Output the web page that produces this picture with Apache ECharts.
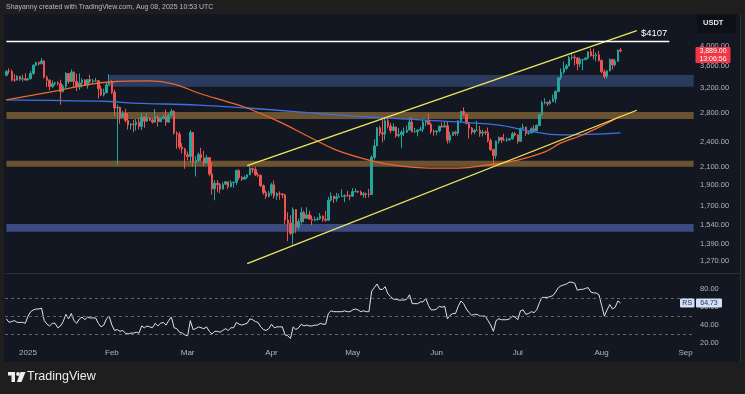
<!DOCTYPE html>
<html><head><meta charset="utf-8">
<script src="https://cdn.jsdelivr.net/npm/echarts@6/dist/echarts.min.js"></script>
<style>
html,body{margin:0;padding:0;background:#1e1e1e;width:745px;height:394px;overflow:hidden}
#panel{position:absolute;left:4px;top:14px;width:737px;height:348px;background:#131722;}
#chart{position:absolute;left:0;top:0;width:745px;height:394px;}
</style></head><body>
<div id="panel"></div><div id="chart"></div>
<script>
// ---------- DATA ----------
const firstDay = '2024-12-24';
const dayCount = 255;
const dates = [];
(function(){const d0=Date.parse(firstDay+'T00:00:00Z');for(let k=0;k<dayCount;k++){dates.push(new Date(d0+k*864e5).toISOString().slice(0,10));}})();
const monthLabels = {'2025-01-01':'2025','2025-02-01':'Feb','2025-03-01':'Mar','2025-04-01':'Apr','2025-05-01':'May','2025-06-01':'Jun','2025-07-01':'Jul','2025-08-01':'Aug','2025-09-01':'Sep'};

const opens = [
3418,3490,3487,3333,3331,3398,3348,3356,
3332,3353,3451,3605,3656,3634,3686,3381,3327,3220,3267,3282,3267,3134,3222,3450,3306,3474,3307,3213,3280,3330,3241,3339,3306,3317,3318,3180,3078,3113,3247,
3300,3120,2870,2880,2731,2787,2687,2622,2632,2627,2660,2602,2737,2676,2725,2692,2662,2743,2669,2716,2739,2662,2763,2820,2512,2495,2332,2306,
2237,2217,2518,2149,2170,2240,2200,2140,2203,2018,1866,1921,1908,1863,1911,1937,1887,1928,1933,2056,1981,1964,1983,2010,2080,2067,2010,2003,1897,1828,1792,
1823,1906,1796,1818,1815,1806,1580,1553,1472,1670,1521,1567,1644,1594,1624,1588,1577,1584,1589,1614,1587,1578,1756,1796,1770,1786,1789,1792,1799,1798,
1793,1838,1840,1834,1807,1817,1813,1810,2206,2345,2582,2514,2498,2680,2608,2546,2594,2476,2491,2523,2525,2551,2663,2527,2530,2551,2565,2661,2682,2632,2532,
2528,2539,2606,2593,2610,2418,2482,2523,2509,2680,2817,2773,2643,2578,2524,2547,2548,2510,2525,2520,2412,2300,2227,2406,2452,2421,2418,2423,2436,2502,
2486,2404,2574,2592,2508,2515,2570,2542,2615,2770,2952,2957,2941,2971,3012,3137,3371,3475,3546,3591,3755,3762,3747,3630,3711,3715,3743,3873,3794,3792,3812,
3697,3480,3392,3497,3716,3611,3683,3909];
const highs = [
3512,3548,3525,3437,3418,3402,3428,3452,
3366,3497,3622,3672,3677,3745,3700,3412,3349,3322,3300,3311,3337,3256,3474,3460,3525,3492,3448,3452,3362,3350,3345,3428,3350,3370,3326,3232,3180,3280,3438,
3330,3165,2925,2890,2826,2856,2795,2651,2695,2707,2722,2795,2740,2795,2729,2718,2852,2760,2724,2770,2845,2790,2857,2832,2535,2530,2380,2320,
2275,2550,2525,2220,2265,2320,2285,2235,2205,2150,1955,1955,1925,1933,1944,1940,1952,1933,2066,2070,1996,2004,2015,2104,2089,2095,2036,2016,1910,1848,1845,
1926,1950,1833,1840,1824,1815,1646,1620,1690,1673,1592,1690,1660,1690,1660,1617,1610,1605,1640,1618,1660,1788,1830,1797,1826,1818,1860,1812,1845,1810,
1873,1870,1848,1850,1835,1828,1865,2231,2430,2593,2609,2740,2738,2724,2650,2643,2598,2580,2548,2585,2616,2733,2738,2580,2560,2600,2713,2698,2788,2655,2559,
2545,2608,2659,2677,2665,2528,2530,2541,2692,2827,2880,2790,2647,2593,2568,2680,2610,2556,2545,2585,2440,2310,2412,2467,2462,2500,2455,2445,2524,2526,
2494,2586,2636,2598,2535,2590,2620,2630,2790,2985,3022,2969,3000,3083,3152,3384,3547,3676,3630,3788,3860,3813,3761,3760,3732,3766,3880,3941,3938,3860,3885,
3720,3527,3510,3740,3730,3726,3918,3955];
const lows = [
3395,3443,3305,3300,3325,3315,3300,3320,
3322,3345,3426,3590,3600,3620,3358,3208,3155,3192,3232,3233,2920,3118,3183,3265,3302,3210,3140,3160,3200,3228,3181,3280,3280,3303,3020,3060,3055,3105,3230,
3090,2745,2120,2640,2725,2656,2559,2557,2521,2544,2560,2552,2582,2665,2678,2640,2652,2600,2660,2698,2610,2658,2746,2490,2310,2300,2254,2076,
2172,2145,2100,1993,2150,2164,2103,2135,1995,1808,1755,1832,1822,1855,1905,1863,1881,1877,1905,1958,1945,1960,1968,2007,2030,1995,1985,1884,1808,1768,1782,
1799,1770,1759,1760,1775,1546,1411,1457,1385,1473,1502,1543,1560,1590,1580,1536,1570,1575,1582,1565,1565,1574,1743,1730,1741,1780,1786,1737,1790,1755,
1791,1830,1824,1801,1780,1775,1782,1805,2181,2341,2473,2390,2418,2573,2508,2536,2448,2454,2320,2470,2512,2546,2522,2515,2468,2542,2523,2606,2622,2500,2476,
2482,2520,2585,2591,2375,2381,2470,2479,2477,2655,2750,2630,2440,2491,2495,2541,2463,2465,2486,2390,2283,2111,2189,2374,2380,2405,2395,2410,2424,2470,
2373,2396,2571,2473,2490,2508,2524,2535,2605,2755,2925,2900,2920,2962,2945,3120,3333,3438,3517,3580,3707,3600,3510,3570,3510,3700,3720,3772,3720,3680,3675,
3449,3356,3355,3490,3523,3580,3670,3860];
const closes = [
3490,3487,3333,3331,3398,3348,3356,3332,
3353,3451,3605,3656,3634,3686,3381,3327,3220,3267,3282,3267,3134,3222,3450,3306,3474,3307,3213,3280,3330,3241,3339,3306,3317,3318,3180,3078,3113,3247,3300,
3120,2870,2880,2731,2787,2687,2622,2632,2627,2660,2602,2737,2676,2725,2692,2662,2743,2669,2716,2739,2662,2763,2820,2512,2495,2332,2306,2237,
2217,2518,2149,2170,2240,2200,2140,2203,2018,1866,1921,1908,1863,1911,1937,1887,1928,1933,2056,1981,1964,1983,2010,2080,2067,2010,2003,1897,1828,1792,1823,
1906,1796,1818,1815,1806,1580,1553,1472,1670,1521,1567,1644,1594,1624,1588,1577,1584,1589,1614,1587,1578,1756,1796,1770,1786,1789,1792,1799,1798,1793,
1838,1840,1834,1807,1817,1813,1810,2206,2345,2582,2514,2498,2680,2608,2546,2594,2476,2491,2523,2525,2551,2663,2527,2530,2551,2565,2661,2682,2632,2532,2528,
2539,2606,2593,2610,2418,2482,2523,2509,2680,2817,2773,2643,2578,2524,2547,2548,2510,2525,2520,2412,2300,2227,2406,2452,2421,2418,2423,2436,2502,2486,
2404,2574,2592,2508,2515,2570,2542,2615,2770,2952,2957,2941,2971,3012,3137,3371,3475,3546,3591,3755,3762,3747,3630,3711,3715,3743,3873,3794,3792,3812,3697,
3480,3392,3497,3716,3611,3683,3909,3889];

const rsiValues = [
47,43,44,45,43,43,43,42,
50,55,57,58,58,59,45,41,39,42,42,37,39,44,52,47,53,45,42,47,49,46,49,48,48,48,42,38,40,47,50,
40,34,35,33,34,31,30,31,31,32,31,39,37,39,38,37,42,39,42,43,40,45,49,37,36,32,31,29,
28,45,35,36,38,37,36,38,33,30,33,33,32,34,36,34,37,37,43,41,40,41,42,47,46,44,43,38,35,34,36,
41,37,38,38,38,29,28,25,38,35,37,41,39,40,39,39,40,40,42,41,41,53,56,55,55,55,55,56,55,55,
57,58,57,55,56,55,55,78,82,86,80,80,83,75,72,69,69,68,68,68,69,74,64,64,64,66,66,70,62,57,57,
58,61,60,61,47,51,53,53,61,67,64,58,54,51,52,52,50,50,50,45,40,33,45,47,46,46,46,47,50,49,
46,56,57,52,53,55,54,57,65,71,71,71,72,73,77,82,84,85,86,88,88,87,79,80,80,81,82,77,76,76,74,
62,50,57,63,58,60,67,64.73];

// moving averages (orange and blue)
const maOrangeDates = ['2024-12-24','2025-01-09','2025-01-31','2025-02-15','2025-02-24','2025-03-05','2025-03-16','2025-03-23','2025-04-04','2025-04-15','2025-04-25','2025-05-07','2025-05-18','2025-05-29','2025-06-09','2025-06-20','2025-07-01','2025-07-11','2025-07-17','2025-07-24','2025-08-01','2025-08-08'];
const maOrangeValues = [2996,3124,3297,3315,3261,3109,2963,2870,2665,2459,2294,2175,2107,2084,2084,2119,2175,2271,2383,2472,2608,2751];
const maBlueDates = ['2024-12-24','2025-01-31','2025-02-09','2025-03-05','2025-03-23','2025-04-12','2025-04-30','2025-05-26','2025-06-24','2025-07-05','2025-07-17','2025-08-08'];
const maBlueValues = [2996,2971,2947,2915,2870,2808,2751,2693,2621,2539,2486,2513];

// drawn zones (price ranges) and lines
const zoneStart = ['2025-01-31','2024-12-24','2024-12-24','2024-12-24'];
const zoneLow  = [3214,2708,2099,1484];
const zoneHigh = [3422,2808,2168,1547];
const channelStart = '2025-03-23', channelEnd = '2025-08-14';
const upperLine = [2112,4333];
const lowerLine = [1252,2836];
const resistance = 4107, resistanceEnd = '2025-08-26';

const priceTicks = [1270,1390,1540,1700,1900,2100,2400,2800,3200,3600,4000];
const rsiTicks = [20,40,60,80];
const rsiLevels = [70,50,30];
const lastPrice = 3889, countdown = '13:06:56', lastRsi = 64.73;

// ---------- BUILD ----------
const L = Math.log;
const FONT = '"Liberation Sans", Arial, sans-serif';
const candleData = closes.map((c,i)=>[L(opens[i]),L(c),L(lows[i]),L(highs[i])]);
const zoneColors = ['#2b3b5e','#6b5332','#6b5332','#3c4a82'];
const fmtPrice = v => Math.round(Math.exp(v)).toLocaleString('en-US',{minimumFractionDigits:2,maximumFractionDigits:2});

const chart = echarts.init(document.getElementById('chart'), null, {renderer:'canvas'});
const option = {
  animation:false,
  backgroundColor:'transparent',
  grid:[{left:5,top:14,width:690,height:259},{left:5,top:274,width:690,height:71}],
  xAxis:[
    {type:'category',gridIndex:0,data:dates,show:false,boundaryGap:true},
    {type:'category',gridIndex:1,data:dates,boundaryGap:true,
     axisLine:{show:false},axisTick:{show:false},splitLine:{show:false},
     axisLabel:{color:'#b2b5be',fontSize:8,fontFamily:FONT,margin:4,
       interval:(idx,val)=>monthLabels[val]!==undefined,
       formatter:val=>monthLabels[val]||''}}
  ],
  yAxis:[
    {type:'value',gridIndex:0,position:'right',min:L(1191),max:L(4737),
     axisLine:{show:false},axisTick:{show:false},splitLine:{show:false},
     axisLabel:{color:'#b2b5be',fontSize:7.5,fontFamily:FONT,margin:5,
       customValues:priceTicks.map(L),formatter:fmtPrice}},
    {type:'value',gridIndex:1,position:'right',min:17.7,max:97.2,
     axisLine:{show:false},axisTick:{show:false},splitLine:{show:false},
     axisLabel:{color:'#b2b5be',fontSize:7.5,fontFamily:FONT,margin:5,
       customValues:rsiTicks,formatter:v=>v.toFixed(2)}}
  ],
  series:[
    {type:'candlestick',xAxisIndex:0,yAxisIndex:0,data:candleData,barWidth:2,silent:true,
     itemStyle:{color:'#26a69a',color0:'#ef5350',borderColor:'#26a69a',borderColor0:'#ef5350',borderWidth:1},
     markArea:{silent:true,z:1,data:zoneLow.map((lo,k)=>[
        {xAxis:zoneStart[k],yAxis:L(zoneHigh[k]),itemStyle:{color:zoneColors[k]}},
        {xAxis:dates[dates.length-1],yAxis:L(lo)}])},
     markLine:{silent:true,symbol:'none',z:6,data:[
        [{coord:[channelStart,L(upperLine[0])],lineStyle:{color:'#f2e65a',width:1.3,type:'solid'},label:{show:false}},{coord:[channelEnd,L(upperLine[1])]}],
        [{coord:[channelStart,L(lowerLine[0])],lineStyle:{color:'#f2e65a',width:1.3,type:'solid'},label:{show:false}},{coord:[channelEnd,L(lowerLine[1])]}],
        [{coord:[dates[0],L(resistance)],lineStyle:{color:'#ffffff',width:1.3,type:'solid'},
          label:{show:true,position:'insideEndTop',formatter:'$'+resistance,color:'#ffffff',fontSize:9.5,fontFamily:FONT,distance:[2,2]}},
         {coord:[resistanceEnd,L(resistance)]}]
     ]}
    },
    {type:'line',xAxisIndex:0,yAxisIndex:0,data:maBlueDates.map((d,i)=>[d,L(maBlueValues[i])]),
     smooth:0.4,showSymbol:false,silent:true,lineStyle:{color:'#3c72e0',width:1.3},z:3},
    {type:'line',xAxisIndex:0,yAxisIndex:0,data:maOrangeDates.map((d,i)=>[d,L(maOrangeValues[i])]),
     smooth:0.4,showSymbol:false,silent:true,lineStyle:{color:'#f0662e',width:1.3},z:3},
    {type:'line',xAxisIndex:1,yAxisIndex:1,data:rsiValues,showSymbol:false,silent:true,
     lineStyle:{color:'#dfe5f0',width:1},
     markLine:{silent:true,symbol:'none',label:{show:false},
       lineStyle:{color:'#5f636e',type:[3,3],width:1},
       data:rsiLevels.map(v=>({yAxis:v}))}}
  ]
};
chart.setOption(option);

// overlay labels positioned through the chart's own scales
const pY = chart.convertToPixel({gridIndex:0},[dates[0],L(lastPrice)])[1] + 4;
const rY = chart.convertToPixel({gridIndex:1},[dates[0],lastRsi])[1];
const lastPriceTxt = lastPrice.toLocaleString('en-US',{minimumFractionDigits:2});
chart.setOption({graphic:[
  {type:'text',left:6,top:3.5,z:100,style:{text:'Shayanny created with TradingView.com, Aug 08, 2025 10:53 UTC',fill:'#b8bcc6',fontSize:7,fontFamily:FONT}},
  {type:'rect',shape:{x:697,y:15,width:39,height:18},style:{fill:'#0d1017'},z:100},
  {type:'text',x:703,y:19,z:101,style:{text:'USDT',fill:'#e6e8ee',fontSize:7.5,fontWeight:'bold',fontFamily:FONT}},
  {type:'rect',shape:{x:695.5,y:pY-8,width:35,height:16,r:1},style:{fill:'#f23645'},z:100},
  {type:'text',x:713,y:pY-3.8,z:101,style:{text:lastPriceTxt,fill:'#ffffff',fontSize:7,fontFamily:FONT,align:'center',verticalAlign:'middle'}},
  {type:'text',x:713,y:pY+3.6,z:101,style:{text:countdown,fill:'#ffffff',fontSize:7,fontFamily:FONT,align:'center',verticalAlign:'middle'}},
  {type:'rect',shape:{x:680,y:rY-4.5,width:14.5,height:9,r:1},style:{fill:'#d3e1f7'},z:100},
  {type:'text',x:687.2,y:rY,z:101,style:{text:'RS',fill:'#1d2b4a',fontSize:7,fontFamily:FONT,align:'center',verticalAlign:'middle'}},
  {type:'rect',shape:{x:696,y:rY-4.5,width:26,height:9,r:1},style:{fill:'#d3e1f7'},z:100},
  {type:'text',x:709,y:rY,z:101,style:{text:lastRsi.toFixed(2),fill:'#1d2b4a',fontSize:7,fontFamily:FONT,align:'center',verticalAlign:'middle'}},
  {type:'line',shape:{x1:5,y1:273.5,x2:740,y2:273.5},style:{stroke:'#2a2e39',lineWidth:1},z:50},
  {type:'line',shape:{x1:740.5,y1:14,x2:740.5,y2:362},style:{stroke:'#2a2e39',lineWidth:1},z:50},
  {type:'rect',shape:{x:8,y:372,width:7,height:3.5},style:{fill:'#ececec'},z:100},
  {type:'rect',shape:{x:11.5,y:372,width:3.5,height:10},style:{fill:'#ececec'},z:100},
  {type:'circle',shape:{cx:18,cy:374,r:1.9},style:{fill:'#ececec'},z:100},
  {type:'polygon',shape:{points:[[20.5,372],[25.5,372],[21.5,382],[16.8,382]]},style:{fill:'#ececec'},z:100},
  {type:'text',x:27,y:370,z:100,style:{text:'TradingView',fill:'#ececec',fontSize:12.5,fontWeight:500,fontFamily:FONT}}
]});
</script></body></html>
